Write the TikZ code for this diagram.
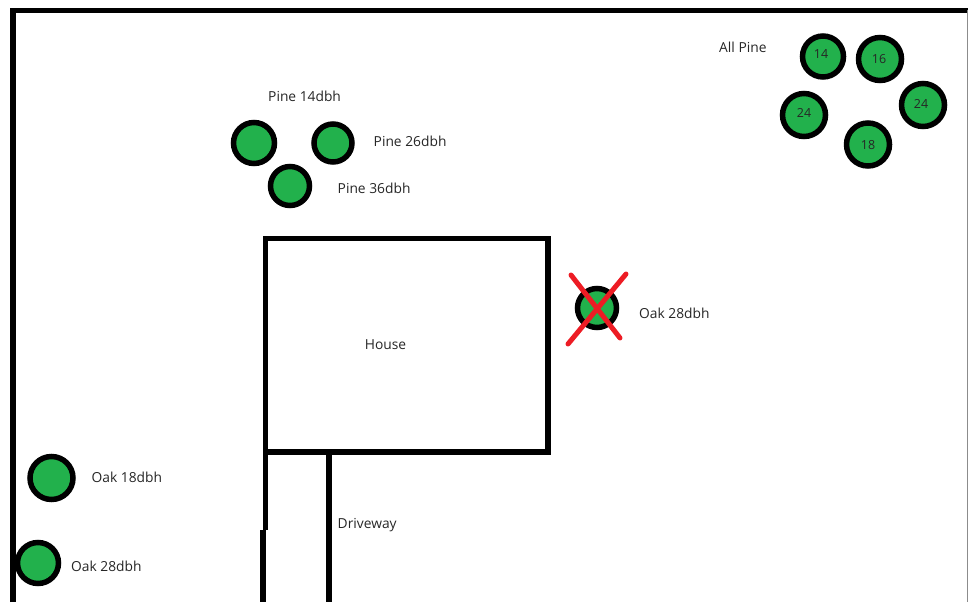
\documentclass[tikz,border=0pt]{standalone}
\usepackage{xcolor}
\usepackage{fontspec}
\setmainfont{Open Sans}
\definecolor{treegreen}{HTML}{22B14C}
\definecolor{crossred}{HTML}{ED1C24}

\begin{document}
\begin{tikzpicture}[x=1pt, y=-1pt,
  tree/.style={circle, draw=black, fill=treegreen, line width=5.5pt, inner sep=0pt, minimum size=#1},
  tree/.default=41pt,
  count/.style={inner sep=0pt, text=black!85, font=\fontsize{12.5}{14}\selectfont},
  label/.style={anchor=west, inner sep=0pt, text=black!85, font=\fontsize{13.8}{15}\selectfont},
  wall/.style={line width=5.5pt, draw=black},
  cross/.style={line width=5pt, draw=crossred, line cap=round}
]
\useasboundingbox (0,0) rectangle (968,602);

% lot boundary
\coordinate (lotbl) at (13,602);
\coordinate (lottl) at (13,10.5);
\coordinate (lottr) at (968,10.5);
\draw[wall] (lotbl) -- (lottl) -- (lottr);
\draw[black!45, line width=1pt] (967.5,10.5) -- (967.5,602);

% house and driveway
\node[draw=black, line width=5.5pt, minimum width=282.5pt, minimum height=213.5pt, inner sep=0pt, outer sep=0pt] (house) at (406.75,345.25) {};
\node[label, anchor=center] at (385.5,345) {House};
\coordinate (drivea) at (265.5,452);
\coordinate (driveb) at (265.5,530);
\coordinate (drivec) at (263,530);
\coordinate (drived) at (263,602);
\coordinate (drivee) at (329,452);
\coordinate (drivef) at (329,602);
\draw[wall] (drivea) -- (driveb);
\draw[wall] (drivec) -- (drived);
\draw[wall] (drivee) -- (drivef);
\node[label] (driveway) at (337.5,525.5) {Driveway};

% pines at the house
\node[tree=41pt] (pinea) at (254,143) {};
\node[tree=38pt] (pineb) at (333,143) {};
\node[tree=39pt] (pinec) at (290,186) {};
\node[label] at (268,96.5) {Pine 14dbh};
\node[label] at (373.5,141.5) {Pine 26dbh};
\node[label] at (337.5,188.5) {Pine 36dbh};

% corner group
\node[label] at (719,47.5) {All Pine};
\node[tree=41pt] (corna) at (823,56.5) {};
\node[tree=43pt] (cornb) at (880,59) {};
\node[tree=43pt] (cornc) at (923,105) {};
\node[tree=43pt] (cornd) at (804,115) {};
\node[tree=43pt] (corne) at (868,144.5) {};
\node[count] at (821,54) {14};
\node[count] at (879,59) {16};
\node[count] at (921,104) {24};
\node[count] at (804,113) {24};
\node[count] at (868,145) {18};

% removed oak
\node[tree=39pt] (oakx) at (597,308) {};
\node[label] at (639,313.5) {Oak 28dbh};
\coordinate (xa) at (571,275);
\coordinate (xb) at (620,338);
\coordinate (xc) at (626,274);
\coordinate (xd) at (568,344);
\draw[cross] (xa) -- (xb);
\draw[cross] (xc) -- (xd);

% oaks on the left
\node[tree=43pt] (oaka) at (51.5,478) {};
\node[label] at (91.5,477.5) {Oak 18dbh};
\node[tree=41pt] (oakb) at (38,563) {};
\node[label] at (71,566.5) {Oak 28dbh};

\end{tikzpicture}
\end{document}
